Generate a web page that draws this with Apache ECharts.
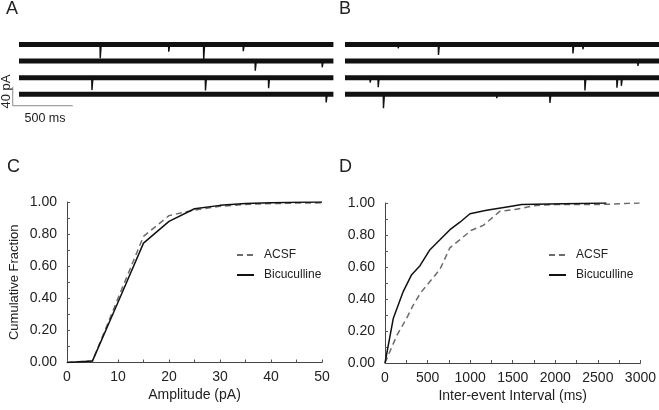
<!DOCTYPE html>
<html>
<head>
<meta charset="utf-8">
<script src="https://cdn.jsdelivr.net/npm/echarts@6/dist/echarts.min.js"></script>
<style>
html,body{margin:0;padding:0;background:#fff;}
#chart{width:659px;height:410px;}
</style>
</head>
<body>
<div id="chart"></div>
<script>
// ---- Data ----
// Sweep traces: events [row, time (ms), amplitude (pA)]
const sweepDurationMs = 2620;
const sweepRows = [0, 1, 2, 3];
const eventsA = [
  [0, 675, 29], [0, 1246, 15], [0, 1537, 32], [0, 1867, 14],
  [1, 1967, 20], [1, 2525, 13],
  [2, 606, 26], [2, 1552, 27], [2, 2078, 22],
  [3, 2558, 17]
];
const eventsB = [
  [0, 442, 8], [0, 778, 22], [0, 1900, 19], [0, 1983, 10],
  [1, 2442, 10],
  [2, 208, 10], [2, 275, 20], [2, 2000, 27], [2, 2267, 21], [2, 2304, 17],
  [3, 319, 29], [3, 1264, 8], [3, 1708, 18]
];
const scaleBarMs = 500;
const scaleBarPA = 40;

// Cumulative amplitude distribution (C)
const ampX = [0, 5, 10, 15, 20, 25, 30, 35, 40, 45, 50];
const ampACSF = [0, 0.01, 0.40, 0.786, 0.915, 0.95, 0.973, 0.985, 0.99, 0.993, 0.995];
const ampBic  = [0, 0.01, 0.375, 0.744, 0.879, 0.958, 0.979, 0.99, 0.995, 0.998, 1.0];

// Cumulative inter-event interval distribution (D)
const ieiXACSF = [0, 137, 254, 330, 420, 645, 762, 1016, 1154, 1348, 1526, 1780, 2000, 2500, 2990];
const ieiACSF  = [0, 0.17, 0.28, 0.36, 0.44, 0.585, 0.72, 0.83, 0.86, 0.948, 0.96, 0.985, 0.99, 0.99, 1.0];
const ieiXBic  = [0, 98, 215, 313, 411, 528, 645, 763, 880, 998, 1193, 1486, 1604, 2093, 2600];
const ieiBic   = [0, 0.28, 0.448, 0.552, 0.608, 0.708, 0.77, 0.833, 0.88, 0.933, 0.954, 0.98, 0.99, 0.995, 1.0];

const legendNames = ['ACSF', 'Bicuculline'];

// ---- Build ----
const ROW_STEP = 35; // pA offset between sweeps
const FONT = 'Liberation Sans, Arial, Helvetica, sans-serif';
const TXT = '#222';

function zip(xs, ys) { return xs.map((x, i) => [x, ys[i]]); }

function baselineSeries(gi, row) {
  return {
    type: 'line', xAxisIndex: gi, yAxisIndex: gi, symbol: 'none', silent: true,
    lineStyle: { color: '#111', width: 5 },
    data: [[0, -row * ROW_STEP], [sweepDurationMs, -row * ROW_STEP]]
  };
}
function eventSeries(gi, events) {
  const d = [];
  events.forEach(([r, t, a]) => {
    const off = -r * ROW_STEP;
    d.push([t, off], [t + 2, off - a], [t + 10, off], [t + 10, '-']);
  });
  return {
    type: 'line', xAxisIndex: gi, yAxisIndex: gi, symbol: 'none', silent: true,
    connectNulls: false,
    lineStyle: { color: '#111', width: 1.4 }, data: d
  };
}

const hiddenAxis = { show: false };
const pxPerMs = 0.12;
const traceTop = 30, traceH = 80;
const yMaxTrace = 30.5, yMinTrace = 30.5 - traceH / 0.475;

function cdfX(min, max, interval, labelEvery, name, gi) {
  return {
    gridIndex: gi, type: 'value', min, max, interval,
    axisLine: { show: true, onZero: false, lineStyle: { color: '#444', width: 1 } },
    axisTick: { show: true, inside: true, length: 3, lineStyle: { color: '#555' } },
    splitLine: { show: false },
    axisLabel: {
      fontSize: 14, color: TXT, fontFamily: FONT, margin: 8,
      formatter: v => (Math.round(v) % labelEvery === 0 ? String(Math.round(v)) : '')
    },
    name, nameLocation: 'middle', nameGap: 26,
    nameTextStyle: { fontSize: 14, color: TXT, fontFamily: FONT }
  };
}
function cdfY(gi, name) {
  return {
    gridIndex: gi, type: 'value', min: 0, max: 1, interval: 0.1,
    axisLine: { show: true, onZero: false, lineStyle: { color: '#444', width: 1 } },
    axisTick: { show: true, inside: true, length: 3, lineStyle: { color: '#555' } },
    splitLine: { show: false },
    axisLabel: {
      fontSize: 14, color: TXT, fontFamily: FONT, margin: 10,
      formatter: v => (Math.round(v * 10) % 2 === 0 ? v.toFixed(2) : '')
    },
    name: name || '', nameLocation: 'middle', nameGap: 46,
    nameTextStyle: { fontSize: 13, color: TXT, fontFamily: FONT }
  };
}

const dashStyle = { color: '#6c6c6c', width: 1.5, type: [6, 4] };
const solidStyle = { color: '#111', width: 1.5 };

const series = [];
sweepRows.forEach(r => series.push(baselineSeries(0, r)));
series.push(eventSeries(0, eventsA));
sweepRows.forEach(r => series.push(baselineSeries(1, r)));
series.push(eventSeries(1, eventsB));
// scale bar (in panel A's coordinates)
const sbX = -52, sbY = -128.9;
series.push({
  type: 'line', xAxisIndex: 0, yAxisIndex: 0, symbol: 'none', silent: true,
  lineStyle: { color: '#888', width: 1 },
  data: [[sbX, sbY + scaleBarPA], [sbX, sbY], [sbX + scaleBarMs, sbY]]
});
series.push({ name: legendNames[0], type: 'line', xAxisIndex: 2, yAxisIndex: 2, symbol: 'none', lineStyle: dashStyle, itemStyle: { color: '#6c6c6c' }, data: zip(ampX, ampACSF) });
series.push({ name: legendNames[1], type: 'line', xAxisIndex: 2, yAxisIndex: 2, symbol: 'none', lineStyle: solidStyle, itemStyle: { color: '#111' }, data: zip(ampX, ampBic) });
series.push({ name: legendNames[0], type: 'line', xAxisIndex: 3, yAxisIndex: 3, symbol: 'none', lineStyle: dashStyle, itemStyle: { color: '#6c6c6c' }, data: zip(ieiXACSF, ieiACSF) });
series.push({ name: legendNames[1], type: 'line', xAxisIndex: 3, yAxisIndex: 3, symbol: 'none', lineStyle: solidStyle, itemStyle: { color: '#111' }, data: zip(ieiXBic, ieiBic) });

function legendAt(left) {
  return {
    data: legendNames, orient: 'vertical', left, top: 244,
    itemWidth: 17, itemHeight: 14, itemGap: 8, selectedMode: false,
    itemStyle: { opacity: 0 },
    textStyle: { fontSize: 12, color: TXT, fontFamily: FONT, padding: [0, 0, 0, 5] }
  };
}

function label(text, x, y) {
  return { type: 'text', left: x, top: y, style: { text, fontSize: 18, fill: TXT, fontFamily: FONT } };
}

const option = {
  animation: false,
  backgroundColor: '#fff',
  grid: [
    { left: 19 - 60 * pxPerMs, top: traceTop, width: (sweepDurationMs + 60) * pxPerMs, height: traceH },
    { left: 345, top: traceTop, width: sweepDurationMs * pxPerMs, height: traceH },
    { left: 67, top: 202, width: 255, height: 160.5 },
    { left: 385, top: 203, width: 256, height: 160 }
  ],
  xAxis: [
    Object.assign({ gridIndex: 0, type: 'value', min: -60, max: sweepDurationMs }, hiddenAxis),
    Object.assign({ gridIndex: 1, type: 'value', min: 0, max: sweepDurationMs }, hiddenAxis),
    cdfX(0, 50, 5, 10, 'Amplitude (pA)', 2),
    cdfX(0, 3000, 250, 500, 'Inter-event Interval (ms)', 3)
  ],
  yAxis: [
    Object.assign({ gridIndex: 0, type: 'value', min: yMinTrace, max: yMaxTrace }, hiddenAxis),
    Object.assign({ gridIndex: 1, type: 'value', min: yMinTrace, max: yMaxTrace }, hiddenAxis),
    cdfY(2, 'Cumulative Fraction'),
    cdfY(3, '')
  ],
  legend: [legendAt(231), legendAt(543)],
  graphic: [
    label('A', 6, 0), label('B', 339, 0), label('C', 7, 158), label('D', 339, 158),
    { type: 'text', x: 6, y: 91.5, rotation: Math.PI / 2,
      style: { text: scaleBarPA + ' pA', fontSize: 13, fill: TXT, fontFamily: FONT, align: 'center', verticalAlign: 'middle' } },
    { type: 'text', x: 45, y: 119,
      style: { text: scaleBarMs + ' ms', fontSize: 12.5, fill: TXT, fontFamily: FONT, align: 'center', verticalAlign: 'middle' } }
  ],
  series
};

const chart = echarts.init(document.getElementById('chart'), null, { renderer: 'canvas' });
chart.setOption(option);
</script>
</body>
</html>
